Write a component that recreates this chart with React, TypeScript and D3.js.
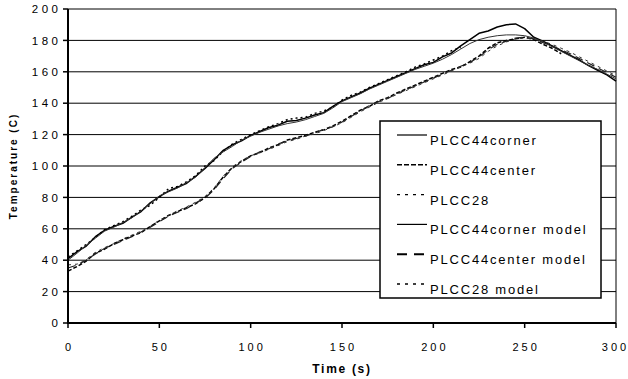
import React from 'react';
import * as d3 from 'd3';

// time axis (s), 5 s sampling
const times = [
  0, 5, 10, 15, 20, 25, 30, 35, 40, 45, 50, 55, 60, 65, 70, 75, 80, 85, 90, 95,
  100, 105, 110, 115, 120, 125, 130, 135, 140, 145, 150, 155, 160, 165, 170, 175, 180, 185, 190, 195,
  200, 205, 210, 215, 220, 225, 230, 235, 240, 245, 250, 255, 260, 265, 270, 275, 280, 285, 290, 295, 300,
];

const plcc44Corner = [
  41, 45.5, 49, 55, 59, 61.5, 63.5, 67.5, 71, 76.5, 80.5, 84, 86.5, 89, 93.5, 98.5, 104, 110, 113.5, 116,
  119.5, 122, 124.5, 126, 128.5, 129, 130.5, 132.5, 134, 138, 141.5, 144, 146.5, 149.5, 152, 154.5, 157, 159.5, 162, 164.5,
  166, 169.5, 172, 176.5, 180.5, 184.5, 186, 188.5, 190, 190.5, 187.5, 182, 179.5, 176.5, 173.5, 170.5, 167.5, 164, 161, 158, 154,
];

const plcc44Center = [
  33, 36, 39.5, 44.5, 47, 50.5, 53, 55.5, 57.5, 61.5, 65, 68.5, 71, 73.5, 76, 80, 85.5, 93, 99, 103,
  106.5, 108.5, 111.5, 113.5, 116.5, 118, 119.5, 121.5, 123, 125.5, 128.5, 132, 135.5, 138, 141.5, 143.5, 146.5, 149, 151.5, 154,
  156.5, 159, 161.5, 163, 166.5, 170, 175, 178.5, 180, 181, 182, 180.5, 177.5, 175, 171.5,
];

const plcc28 = [
  42, 46, 50, 54.5, 59.5, 62, 64.5, 68, 72, 75, 80, 85.5, 87, 90, 94, 100, 103.5, 109.5, 114, 117,
  120, 122.5, 125, 127, 129.5, 130.5, 131, 133.5, 135, 137.5, 142, 145, 147, 150, 152.5, 155, 157.5, 160, 163, 165,
  167.5, 170, 173.5, 175.5,
];

const plcc44CornerModel = [
  40, 44.5, 49.5, 54, 58.5, 61, 64, 67, 71.5, 76, 81, 83.5, 86, 89.5, 93, 99, 105, 109, 112.5, 116.5,
  119, 121.5, 123.5, 125.5, 127, 128, 129.5, 131.5, 133.5, 137, 141, 143.5, 146, 149, 151.5, 154, 156.5, 159, 161.5, 163.5,
  165.5, 168, 171, 174.5, 178, 180.5, 182, 183, 183.5, 183.5, 183, 181.5, 179, 176, 173, 170, 167, 164, 161.5, 158.5, 155.5,
];

const plcc44CenterModel = [
  35, 37, 40, 44, 47.5, 50, 52.5, 55, 58, 61, 64.5, 68, 70.5, 73, 76.5, 79.5, 85, 92, 98.5, 102.5,
  106, 109, 111, 114, 116, 117.5, 119, 121, 123.5, 125, 128, 131.5, 135, 138.5, 141, 143, 146, 148.5, 151, 153.5,
  156, 158.5, 161, 163.5, 166, 169.5, 174, 177.5, 179.5, 181.5, 182, 181, 178.5, 176.5, 174, 171.5, 168.5, 165.5, 162.5, 159.5, 156.5,
];

const plcc28Model = [
  37, 37.5, 40.5, 45, 48, 50.5, 53.5, 56, 58.5, 61.5, 65.5, 68.5, 71.5, 74, 77, 80.5, 86, 93.5, 99.5, 103.5,
  106.5, 108.5, 110.5, 113, 115.5, 117, 119, 120.5, 122.5, 125, 127.5, 131, 134.5, 137.5, 140.5, 143, 145.5, 148, 150.5, 153,
  155.5, 158, 160.5, 163, 165.5, 168.5, 173, 176.5, 179, 181, 181.5, 181, 179.5, 177.5, 175, 172.5, 169.5, 166.5, 163.5, 160.5, 157.5,
];

const seriesNames = [
  'PLCC44corner',
  'PLCC44center',
  'PLCC28',
  'PLCC44corner model',
  'PLCC44center model',
  'PLCC28 model',
];
const seriesValues = [plcc44Corner, plcc44Center, plcc28, plcc44CornerModel, plcc44CenterModel, plcc28Model];

const xTicks = [0, 50, 100, 150, 200, 250, 300];
const yTicks = [0, 20, 40, 60, 80, 100, 120, 140, 160, 180, 200];

const styles = [
  { dash: '', width: 1.5, color: '#000' },
  { dash: '4,2', width: 1.5, color: '#000' },
  { dash: '2,3', width: 1.5, color: '#000' },
  { dash: '', width: 1, color: '#333' },
  { dash: '8,5', width: 1.2, color: '#222' },
  { dash: '3,4', width: 1, color: '#333' },
];
const legendDash = ['', '5,2', '3,5', '', '10,7', '3,5'];
const legendWidth = [1.2, 1.6, 1.4, 1.2, 2, 1.4];

const W = 628;
const H = 379;
const margin = { top: 9, right: 12, bottom: 56, left: 68 };

export default function App() {
  const x = d3.scaleLinear().domain([0, 300]).range([margin.left, W - margin.right]);
  const y = d3.scaleLinear().domain([0, 200]).range([H - margin.bottom, margin.top]);
  const line = d3
    .line<number>()
    .x((_, i) => x(times[i]))
    .y((d) => y(d));

  const font = 'Arial, "Liberation Sans", sans-serif';
  const lgX = 380;
  const lgY = 121;

  return (
    <svg
      width={W}
      height={H}
      style={{ position: 'absolute', left: 0, top: 0, background: '#fff' }}
      fontFamily={font}
    >
      <rect width={W} height={H} fill="#fff" />
      {/* gridlines */}
      {yTicks.slice(1).map((t) => (
        <line key={t} x1={x(0)} x2={x(300)} y1={y(t)} y2={y(t)} stroke="#000" strokeWidth={1} />
      ))}
      {/* right border */}
      <line x1={x(300)} x2={x(300)} y1={y(200)} y2={y(0)} stroke="#000" strokeWidth={1} />

      {/* series */}
      {seriesValues.map((vals, i) => (
        <path
          key={seriesNames[i]}
          d={line(vals) || ''}
          fill="none"
          stroke={styles[i].color}
          strokeWidth={styles[i].width}
          strokeDasharray={styles[i].dash}
          strokeLinejoin="round"
        />
      ))}

      {/* axes */}
      <line x1={x(0)} x2={x(0)} y1={y(200)} y2={y(0) + 1} stroke="#000" strokeWidth={2} />
      <line x1={x(0) - 1} x2={x(300)} y1={y(0)} y2={y(0)} stroke="#000" strokeWidth={2} />
      {yTicks.map((t) => (
        <g key={t}>
          <line x1={x(0) - 5} x2={x(0)} y1={y(t)} y2={y(t)} stroke="#000" strokeWidth={1.5} />
          <text
            x={58 + 3.5}
            y={y(t)}
            dy="0.36em"
            textAnchor="end"
            fontSize={11.5}
            letterSpacing={3.5}
            fill="#000"
          >
            {t}
          </text>
        </g>
      ))}
      {xTicks.map((t) => (
        <g key={t}>
          <line x1={x(t)} x2={x(t)} y1={y(0)} y2={y(0) + 5} stroke="#000" strokeWidth={1.5} />
          <text
            x={x(t) + (t === 300 ? -0.5 : 1.5)}
            y={351}
            textAnchor="middle"
            fontSize={11}
            letterSpacing={3}
            fill="#000"
          >
            {t}
          </text>
        </g>
      ))}

      {/* axis titles */}
      <text
        x={(x(0) + x(300)) / 2}
        y={373}
        textAnchor="middle"
        fontSize={12}
        fontWeight="bold"
        letterSpacing={1.7}
      >
        Time (s)
      </text>
      <text
        transform={`translate(17, ${(y(0) + y(200)) / 2}) rotate(-90)`}
        textAnchor="middle"
        fontSize={10}
        fontWeight="bold"
        letterSpacing={2}
      >
        Temperature (C)
      </text>

      {/* legend */}
      <rect x={lgX} y={lgY} width={221} height={177} fill="#fff" stroke="#000" strokeWidth={1.5} />
      {seriesNames.map((name, i) => {
        const base = 145 + i * 29.8;
        return (
          <g key={name}>
            <line
              x1={397}
              x2={427}
              y1={base - 10}
              y2={base - 10}
              stroke="#000"
              strokeWidth={legendWidth[i]}
              strokeDasharray={legendDash[i]}
            />
            <text x={430} y={base} fontSize={13} letterSpacing={1.8} fill="#000">
              {name}
            </text>
          </g>
        );
      })}
    </svg>
  );
}
